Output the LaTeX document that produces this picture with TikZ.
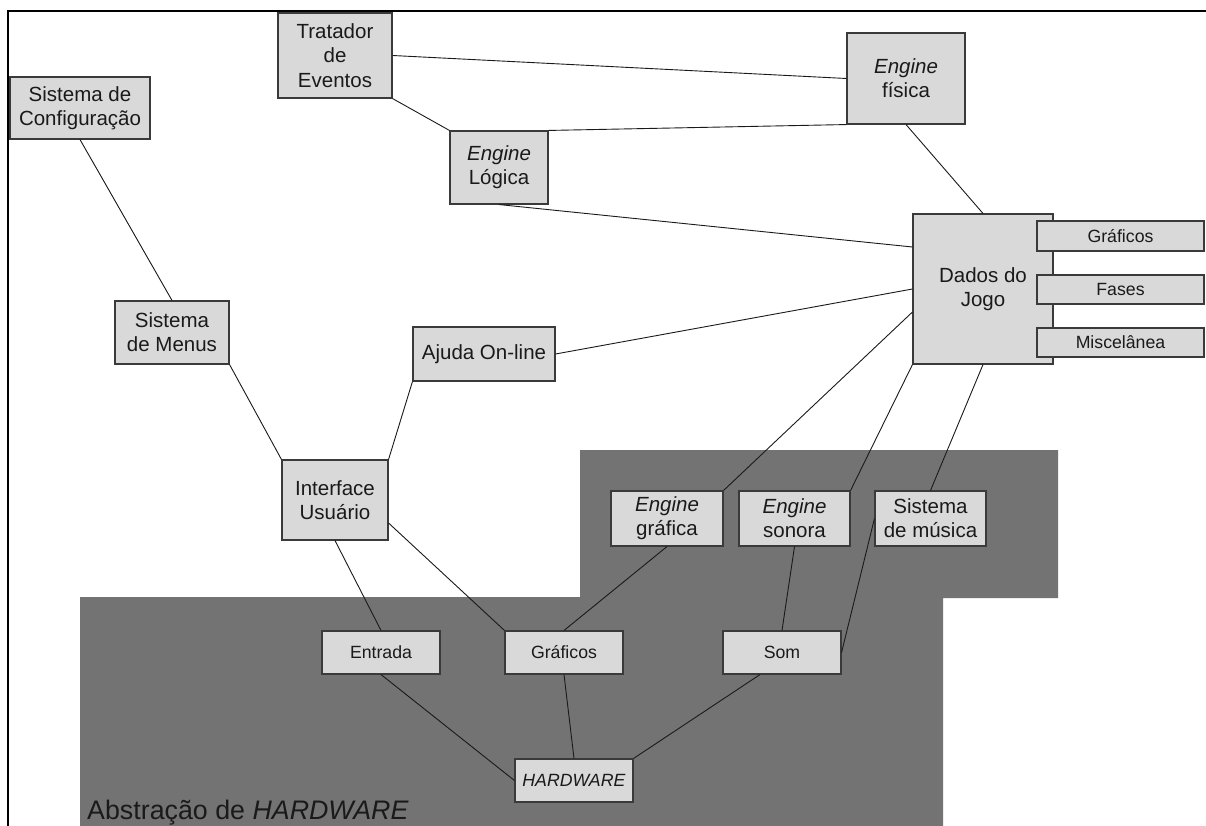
\documentclass[tikz,border=0pt]{standalone}
\usepackage{fontspec}
\setmainfont{Liberation Sans}
\definecolor{boxfill}{HTML}{D9D9D9}
\definecolor{boxline}{HTML}{3A3A3A}
\definecolor{ink}{HTML}{1A1A1A}
\definecolor{hwzone}{HTML}{737373}
\begin{document}
\begin{tikzpicture}[x=1pt,y=-1pt,
  box/.style={draw=boxline, fill=boxfill, line width=1.1pt, inner sep=0pt,
    align=center, text=ink, font=\fontsize{20.5}{24.3}\selectfont},
  smallbox/.style={box, font=\fontsize{17.7}{21}\selectfont},
  link/.style={draw=ink, line width=0.9pt}]
\useasboundingbox (0,0) rectangle (1206,826);
\fill[white] (0,0) rectangle (1206,826);

% hardware abstraction zone
\fill[hwzone] (580,450) -- (1058,450) -- (1058,598) -- (943,598) -- (943,826)
  -- (80,826) -- (80,597) -- (580,597) -- cycle;

% frame
\draw[black, line width=2.5pt] (8,826) -- (8,11) -- (1206,11);

% upper nodes
\node[box, minimum width=114pt, minimum height=85pt] (trat) at (335,55.5) {Tratador\\de\\Eventos};
\node[box, minimum width=118pt, minimum height=91pt] (fis) at (906,78.5) {\textit{Engine}\\física};
\node[box, minimum width=140pt, minimum height=62pt] (conf) at (80,108) {Sistema de\\Configuração};
\node[box, minimum width=98pt, minimum height=73pt] (log) at (499,167.5) {\textit{Engine}\\Lógica};
\node[box, minimum width=140pt, minimum height=150pt] (dados) at (983,289) {Dados do\\Jogo};
\node[smallbox, minimum width=167pt, minimum height=30pt] (dgraf) at (1120.5,236) {Gráficos};
\node[smallbox, minimum width=167pt, minimum height=29pt] (dfases) at (1120.5,289.5) {Fases};
\node[smallbox, minimum width=167pt, minimum height=29pt] (dmisc) at (1120.5,342.5) {Miscelânea};
\node[box, minimum width=114pt, minimum height=63pt] (menus) at (172,332.5) {Sistema\\de Menus};
\node[box, minimum width=142pt, minimum height=54pt] (ajuda) at (484,354) {Ajuda On-line};
\node[box, minimum width=106pt, minimum height=80pt] (iface) at (335,500) {Interface\\Usuário};

% engines
\node[box, minimum width=112pt, minimum height=55pt] (egraf) at (667,518.5) {\textit{Engine}\\gráfica};
\node[box, minimum width=111pt, minimum height=55pt] (esom) at (794.5,518.5) {\textit{Engine}\\sonora};
\node[box, minimum width=111pt, minimum height=55pt] (musica) at (930.5,518.5) {Sistema\\de música};

% hardware abstraction nodes
\node[smallbox, minimum width=118pt, minimum height=43pt] (entrada) at (381,652.5) {Entrada};
\node[smallbox, minimum width=118pt, minimum height=43pt] (graf) at (564,652.5) {Gráficos};
\node[smallbox, minimum width=118pt, minimum height=43pt] (som) at (782,652.5) {Som};
\node[smallbox, minimum width=118pt, minimum height=43pt] (hw) at (574,780.5) {\textit{HARDWARE}};

\node[anchor=base west, inner sep=0pt, text=ink, font=\fontsize{26.8}{30}\selectfont]
  (zone) at (87,819) {Abstração de \textit{HARDWARE}};

% connectors
\draw[link] (trat.east) -- (fis.west);
\draw[link] (trat.south east) -- (log.north west);
\draw[link] (log.north east) -- (fis.south west);
\draw[link] (log.south) -- ([yshift=42pt]dados.west);
\draw[link] (fis.south) -- (dados.north);
\draw[link] (conf.south) -- (menus.north);
\draw[link] (menus.south east) -- (iface.north west);
\draw[link] (iface.north east) -- (ajuda.south west);
\draw[link] (ajuda.east) -- (dados.west);
\draw[link] (egraf.north east) -- ([yshift=-23pt]dados.west);
\draw[link] (esom.north east) -- (dados.south west);
\draw[link] (musica.north) -- (dados.south);
\draw[link] (iface.south) -- (entrada.north);
\draw[link] ([yshift=-23pt]iface.east) -- (graf.north west);
\draw[link] (egraf.south) -- (graf.north);
\draw[link] (esom.south) -- (som.north);
\draw[link] (musica.west) -- (som.east);
\draw[link] (entrada.south) -- (hw.west);
\draw[link] (graf.south) -- (hw.north);
\draw[link] ([xshift=-22pt]som.south) -- (hw.north east);
\end{tikzpicture}
\end{document}
